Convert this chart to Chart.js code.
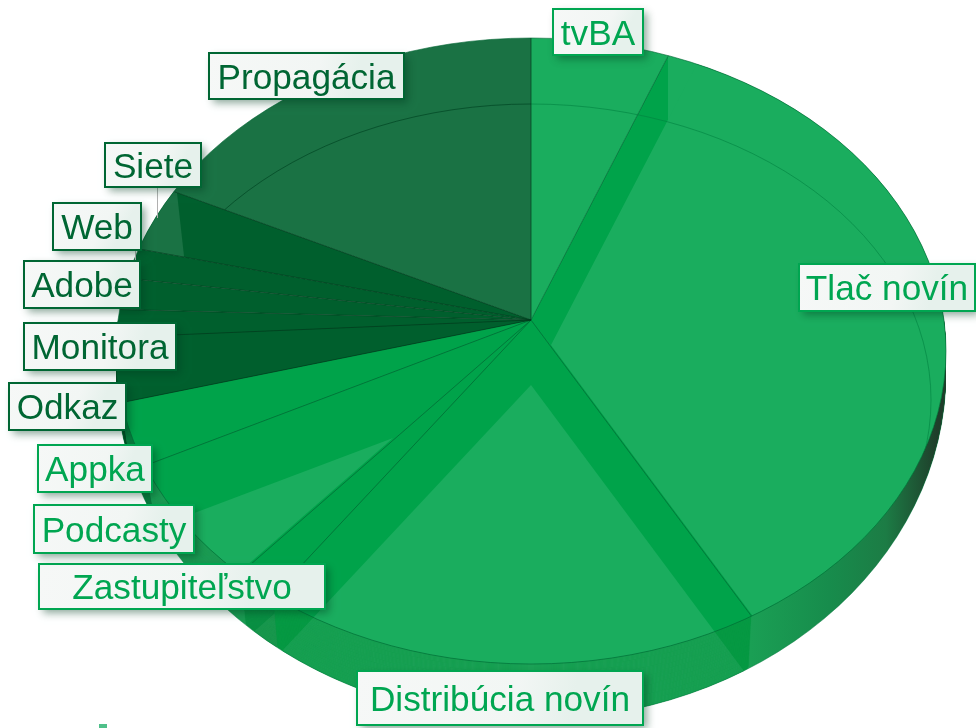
<!DOCTYPE html>
<html>
<head>
<meta charset="utf-8">
<title>Rozpočet</title>
<script src="https://cdn.jsdelivr.net/npm/chart.js@4/dist/chart.umd.js"></script>
<style>
    html, body { margin: 0; padding: 0; background: #fff; }
    canvas { display: block; }
</style>
</head>
<body>
<canvas id="pieChart" width="976" height="728"></canvas>
<script>
/*** Data, clockwise from 12 o'clock ***/
const categories = ['tvBA', 'Tlač novín', 'Distribúcia novín', 'Zastupiteľstvo', 'Podcasty', 'Appka', 'Odkaz', 'Monitora', 'Adobe', 'Web', 'Siete', 'Propagácia'];
const shares = [5.4, 35.8, 19.3, 1.6, 6.1, 3.0, 3.0, 1.4, 1.8, 1.75, 3.6, 17.25];

const LIGHT = '#1aad5e';
const BAND = '#00a34a';
const PROP = '#1a7244';
const DARK = '#005f2d';
const faceColors = [LIGHT, LIGHT, BAND, BAND, BAND, BAND, DARK, DARK, DARK, DARK, DARK, PROP];
const wallColors = ['#1a9a50', '#1a9a50', '#069943', '#0a8f43', '#1b9a52', '#0a7a3e', '#004d25', '#004d25', '#004d25', '#004d25', '#004d25', '#14603a'];
const labelColors = ['#00a651', '#00a651', '#00a651', '#00a651', '#00a651', '#00a651', '#006633', '#006633', '#006633', '#006633', '#006633', '#006633'];
// x, y, width, height of each label box
const labelBoxes = [
    [553, 9, 90, 46], [799, 264, 176, 47], [357, 671, 286, 54], [39, 564, 286, 45],
    [34, 505, 160, 48], [38, 445, 114, 47], [9, 383, 117, 47], [24, 323, 152, 47],
    [24, 261, 116, 47], [53, 203, 88, 47], [105, 143, 96, 44], [209, 53, 195, 46]
];

// the apex of the pie sits above the middle of the rim ellipse
const APEX_X = 531;
const APEX_Y = 320;
const RADIUS_X = 415;
const RY_BACK = 282;
const RY_FRONT = 344;
const RIM_Y = 351;
const RIM_RY = 313;

function slicePath(ctx, arc, stretch) {
    const r = arc.outerRadius * (stretch || 1);
    ctx.moveTo(arc.x, arc.y);
    ctx.arc(arc.x, arc.y, r, arc.startAngle, arc.endAngle);
    ctx.closePath();
}

/** Maps the round pie of the chart on the flattened disc, dx/dy moves it in pixels */
function project(ctx, arc, ry, dx, dy) {
    const sx = RADIUS_X / arc.outerRadius;
    const sy = ry / arc.outerRadius;
    ctx.setTransform(sx, 0, 0, sy, APEX_X + (dx || 0) - sx * arc.x, APEX_Y + (dy || 0) - sy * arc.y);
}

function clipRect(ctx, x, y, w, h) {
    ctx.setTransform(1, 0, 0, 1, 0, 0);
    ctx.beginPath();
    ctx.rect(x, y, w, h);
    ctx.clip();
}

function rimPath(ctx, down, grow) {
    ctx.setTransform(1, 0, 0, 1, 0, 0);
    ctx.beginPath();
    ctx.ellipse(APEX_X, RIM_Y + (down || 0), RADIUS_X, RIM_RY + (grow || 0), 0, 0, Math.PI * 2);
}

/** Runs fn once above and once below a horizontal line through the apex */
function eachHalf(ctx, dy, fn) {
    [[RY_BACK, 0, APEX_Y + dy], [RY_FRONT, APEX_Y + dy, 728]].forEach(h => {
        ctx.save();
        clipRect(ctx, 0, h[1], 976, h[2]);
        fn(h[0]);
        ctx.restore();
    });
}

function isBack(a) {
    return a < Math.PI / 2 || a > Math.PI * 1.5;
}

/** Clips to one slice of the disc, using the angles the chart gave to its arc */
function sliceClip(ctx, arc, dy) {
    const a0 = arc.startAngle + Math.PI / 2;
    const a1 = arc.endAngle + Math.PI / 2;
    ctx.setTransform(1, 0, 0, 1, 0, 0);
    ctx.beginPath();
    ctx.moveTo(APEX_X, APEX_Y + dy);
    for (let k = 0; k <= 40; k++) {
        const a = a0 + (a1 - a0) * k / 40;
        const ry = isBack(a) ? RY_BACK : RY_FRONT;
        ctx.lineTo(APEX_X + Math.sin(a) * RADIUS_X * 1.5, APEX_Y + dy - Math.cos(a) * ry * 1.5);
    }
    ctx.closePath();
    ctx.clip();
}

function fillShifted(ctx, arc, dx, dy, color) {
    eachHalf(ctx, dy, ry => {
        project(ctx, arc, ry, dx, dy);
        ctx.beginPath();
        slicePath(ctx, arc, 2);
        ctx.fillStyle = color;
        ctx.fill();
    });
}

function innerRim(ctx) {
    ctx.setTransform(1, 0, 0, 1, 0, 0);
    ctx.ellipse(APEX_X, 400, 400, 296, 0, 0, Math.PI * 2);
}

/** The side of the pie: the slices are repeated downwards, deepest layer first */
function drawWall(ctx, arcs) {
    const DEPTH = 56;
    for (let d = DEPTH; d >= 0; d--) {
        const t = d / DEPTH;
        ctx.save();
        clipRect(ctx, 0, APEX_Y, 976, 728);
        rimPath(ctx, 22 * t, 34 * t);
        ctx.clip();
        arcs.forEach((arc, i) => {
            ctx.save();
            sliceClip(ctx, arc, d);
            ctx.setTransform(1, 0, 0, 1, 0, 0);
            if (i === 1) {
                const g = ctx.createLinearGradient(751, 0, 938, 0);
                g.addColorStop(0, '#1a9f54');
                g.addColorStop(0.42, '#178c4c');
                g.addColorStop(0.72, '#1c7c45');
                g.addColorStop(1, '#1f3d2a');
                ctx.fillStyle = g;
            } else {
                ctx.fillStyle = wallColors[i];
            }
            ctx.fillRect(0, APEX_Y, 976, 728);
            if (i === 2) {
                fillShifted(ctx, arc, 0, 65, '#1ba155');
            } else if (i === 3) {
                fillShifted(ctx, arc, 0, 70, '#1d9950');
            }
            ctx.restore();
        });
        ctx.restore();
    }
}

function drawFace(ctx, arcs) {
    arcs.forEach((arc, i) => {
        ctx.save();
        rimPath(ctx);
        ctx.clip();
        sliceClip(ctx, arc, 0);
        ctx.setTransform(1, 0, 0, 1, 0, 0);
        ctx.fillStyle = faceColors[i];
        ctx.fillRect(0, 0, 976, 728);
        if (i === 1) {
            // Tlač novín: band on the upper edge, inside of the thin inner rim
            ctx.save();
            ctx.beginPath();
            innerRim(ctx);
            ctx.rect(0, 0, 668, 140);
            ctx.clip();
            ctx.fillStyle = BAND;
            ctx.fillRect(0, 0, 976, 728);
            ctx.restore();
            fillShifted(ctx, arc, 20, 25, LIGHT);
        } else if (i === 2) {
            fillShifted(ctx, arc, 0, 65, LIGHT);
        } else if (i === 4) {
            fillShifted(ctx, arc, -138, 118, LIGHT);
        } else if (i === 10) {
            // Siete: the outer corner has the colour of Propagácia
            ctx.fillStyle = PROP;
            ctx.fillRect(0, 0, 976, 728);
            ctx.beginPath();
            ctx.moveTo(170, 130);
            ctx.lineTo(190, 310);
            ctx.lineTo(540, 330);
            ctx.lineTo(540, 130);
            ctx.closePath();
            ctx.fillStyle = DARK;
            ctx.fill();
        }
        ctx.restore();
    });
}

function drawLines(ctx, arcs) {
    ctx.save();
    rimPath(ctx);
    ctx.clip();
    arcs.forEach((arc, i) => {
        // inner thin rim
        if (i === 0 || i === 1 || i === 11) {
            ctx.save();
            sliceClip(ctx, arc, 0);
            ctx.beginPath();
            innerRim(ctx);
            ctx.lineWidth = 1;
            ctx.strokeStyle = i === 11 ? 'rgba(0, 70, 35, 0.7)' : 'rgba(0, 130, 65, 0.6)';
            ctx.stroke();
            ctx.restore();
        }
        // edge between this slice and the next one
        const a = arc.endAngle + Math.PI / 2;
        const ry = isBack(a) ? RY_BACK : RY_FRONT;
        ctx.setTransform(1, 0, 0, 1, 0, 0);
        ctx.beginPath();
        ctx.moveTo(APEX_X, APEX_Y);
        ctx.lineTo(APEX_X + Math.sin(a) * RADIUS_X * 1.5, APEX_Y - Math.cos(a) * ry * 1.5);
        ctx.lineWidth = 1;
        ctx.strokeStyle = i >= 5 ? 'rgba(0, 60, 30, 0.7)' : 'rgba(0, 100, 50, 0.65)';
        ctx.stroke();
    });
    ctx.restore();
    ctx.save();
    rimPath(ctx);
    ctx.lineWidth = 1;
    ctx.strokeStyle = 'rgba(0, 100, 50, 0.6)';
    ctx.stroke();
    ctx.beginPath();
    ctx.ellipse(APEX_X, RIM_Y + 22, RADIUS_X, RIM_RY + 34, 0, 0.05, Math.PI - 0.05);
    ctx.strokeStyle = 'rgba(0, 120, 60, 0.5)';
    ctx.stroke();
    ctx.restore();
}

function drawLabels(ctx) {
    ctx.save();
    ctx.setTransform(1, 0, 0, 1, 0, 0);
    // small piece of a logo cut by the bottom edge
    ctx.fillStyle = '#4fc08a';
    ctx.fillRect(99, 724, 8, 4);
    // leader lines
    ctx.strokeStyle = '#b0b0b0';
    ctx.lineWidth = 1;
    ctx.beginPath();
    ctx.moveTo(157.5, 188);
    ctx.lineTo(157.5, 218);
    ctx.moveTo(135.5, 251);
    ctx.lineTo(135.5, 260);
    ctx.stroke();

    ctx.font = '35.2px "Liberation Sans", Arial, sans-serif';
    ctx.textAlign = 'center';
    ctx.textBaseline = 'middle';
    categories.forEach((name, i) => {
        const b = labelBoxes[i];
        ctx.save();
        ctx.shadowColor = 'rgba(0, 60, 30, 0.45)';
        ctx.shadowBlur = 8;
        ctx.shadowOffsetX = 4;
        ctx.shadowOffsetY = 4;
        ctx.fillStyle = '#f4f7f5';
        ctx.fillRect(b[0], b[1], b[2], b[3]);
        ctx.restore();
        const g = ctx.createLinearGradient(b[0], b[1], b[0] + b[2], b[1] + b[3]);
        g.addColorStop(0, '#f6f8f7');
        g.addColorStop(0.55, '#f2f6f4');
        g.addColorStop(0.75, '#e6f1ec');
        g.addColorStop(1, '#e6f1ec');
        ctx.fillStyle = g;
        ctx.fillRect(b[0], b[1], b[2], b[3]);
        ctx.strokeStyle = labelColors[i];
        ctx.lineWidth = 2;
        ctx.strokeRect(b[0], b[1], b[2], b[3]);
        ctx.fillStyle = labelColors[i];
        ctx.fillText(name, b[0] + b[2] / 2, b[1] + b[3] / 2 + 3);
    });
    ctx.restore();
}

const pie3d = {
    id: 'pie3d',
    beforeDatasetsDraw(chart) {
        const ctx = chart.ctx;
        const arcs = chart.getDatasetMeta(0).data;
        ctx.save();
        drawWall(ctx, arcs);
        drawFace(ctx, arcs);
        drawLines(ctx, arcs);
        ctx.restore();
        return false;
    },
    afterDraw(chart) {
        drawLabels(chart.ctx);
    }
};

new Chart(document.getElementById('pieChart').getContext('2d'), {
    type: 'pie',
    data: {
        labels: categories,
        datasets: [{ data: shares, backgroundColor: faceColors, borderWidth: 0 }]
    },
    options: {
        responsive: false,
        animation: false,
        plugins: { legend: { display: false }, tooltip: { enabled: false } }
    },
    plugins: [pie3d]
});
</script>
</body>
</html>
